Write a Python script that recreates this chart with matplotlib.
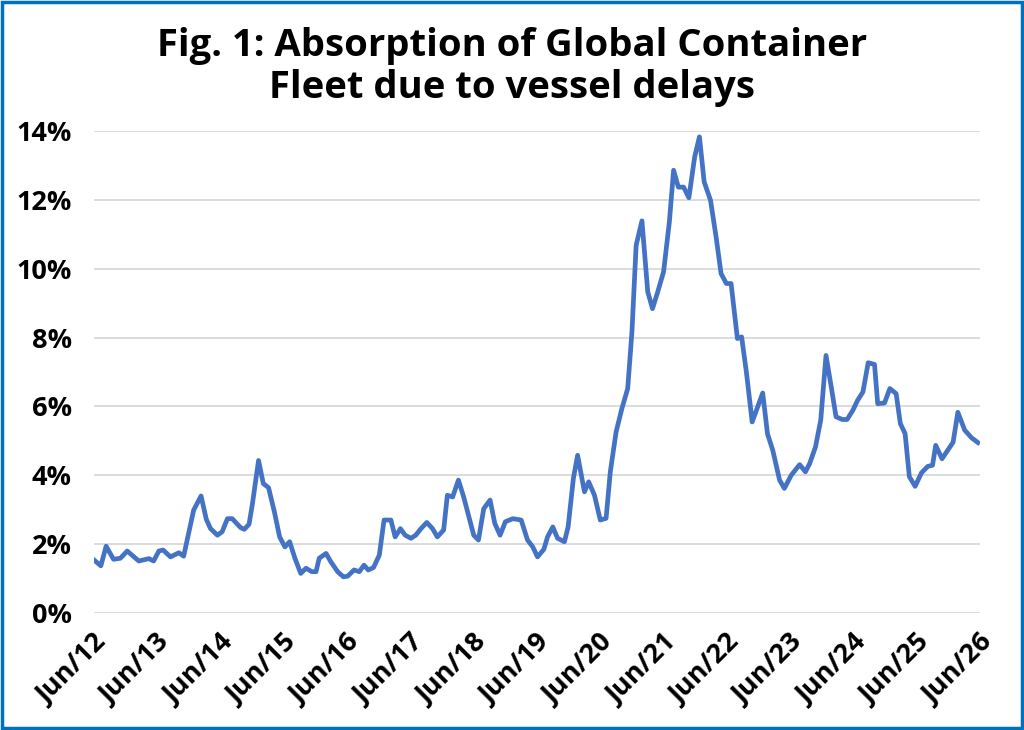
import matplotlib
matplotlib.use('Agg')
import matplotlib.pyplot as plt
from matplotlib.patches import Rectangle

plt.rcParams['font.family'] = ['Open Sans', 'DejaVu Sans']

# months since Jun 2012
months = [0, 1.3, 2.3, 3.7, 5.0, 6.3, 8.5, 10.4, 11.3, 12.3, 13.1, 14.5, 16.1, 17.0,
          18.9, 20.3, 21.3, 22.1, 23.4, 24.3, 25.3, 26.2, 27.8, 28.5, 29.4, 30.0,
          31.2, 32.1, 33.1, 34.2, 35.2, 36.2, 37.1, 38.1, 39.2, 40.2, 41.3, 42.1,
          42.7, 44.0, 44.9, 46.2, 47.3, 48.1, 49.3, 50.3, 51.2, 52.0, 53.0, 54.1,
          55.0, 56.3, 57.1, 58.1, 59.0, 60.1, 61.0, 62.0, 63.1, 64.2, 65.1, 66.3,
          67.0, 68.0, 69.1, 70.1, 71.0, 72.0, 72.9, 73.9, 75.1, 76.0, 77.0, 78.0,
          79.4, 81.0, 82.2, 83.2, 84.1, 85.3, 86.0, 87.0, 87.9, 89.2, 89.9, 90.9,
          91.7, 93.0, 93.8, 94.9, 96.0, 97.1, 97.9, 99.0, 100.1, 101.2, 102.0,
          102.8, 103.9, 105.0, 105.9, 106.9, 108.0, 109.1, 109.9, 110.8, 111.8,
          112.8, 113.9, 114.8, 115.7, 116.9, 118.0, 118.9, 119.9, 120.8, 122.0,
          122.8, 123.7, 124.8, 126.8, 127.7, 128.7, 130.0, 130.9, 132.2, 133.8,
          134.9, 135.7, 136.8, 137.8, 138.8, 139.8, 140.7, 141.9, 142.8, 143.9,
          144.8, 145.8, 146.8, 148.0, 148.6, 149.9, 150.9, 152.1, 152.9, 153.8,
          154.6, 155.7, 156.9, 158.1, 159.0, 159.6, 160.8, 162.9, 163.8, 165.1,
          166.4, 167.6]

absorption = [1.54, 1.37, 1.94, 1.56, 1.59, 1.80, 1.51, 1.58, 1.51, 1.80, 1.83, 1.63,
              1.75, 1.65, 2.99, 3.40, 2.72, 2.45, 2.26, 2.36, 2.74, 2.74, 2.48, 2.43,
              2.58, 3.13, 4.43, 3.76, 3.64, 2.94, 2.21, 1.92, 2.07, 1.59, 1.15, 1.30,
              1.20, 1.20, 1.59, 1.73, 1.49, 1.20, 1.05, 1.07, 1.25, 1.20, 1.39, 1.25,
              1.32, 1.68, 2.70, 2.70, 2.21, 2.45, 2.26, 2.17, 2.26, 2.45, 2.63, 2.45,
              2.21, 2.41, 3.42, 3.37, 3.86, 3.37, 2.84, 2.26, 2.12, 3.03, 3.28, 2.60,
              2.26, 2.65, 2.74, 2.70, 2.12, 1.92, 1.63, 1.85, 2.21, 2.50, 2.17, 2.07,
              2.50, 3.91, 4.58, 3.52, 3.81, 3.42, 2.70, 2.75, 4.10, 5.26, 5.94, 6.52,
              8.16, 10.68, 11.39, 9.33, 8.84, 9.33, 9.91, 11.36, 12.86, 12.37, 12.37,
              12.06, 13.25, 13.83, 12.52, 11.99, 10.88, 9.86, 9.57, 9.57, 7.97, 8.02,
              7.00, 5.55, 6.39, 5.21, 4.73, 3.86, 3.62, 4.00, 4.31, 4.10, 4.34, 4.82,
              5.60, 7.48, 6.56, 5.70, 5.62, 5.62, 5.89, 6.18, 6.42, 7.27, 7.22, 6.08,
              6.10, 6.52, 6.37, 5.50, 5.21, 3.96, 3.68, 4.07, 4.26, 4.29, 4.87, 4.48,
              4.96, 5.83, 5.31, 5.09, 4.95]

tick_months = list(range(0, 169, 12))
tick_labels = ['Jun/%02d' % (12 + i) for i in range(len(tick_months))]
y_ticks = list(range(0, 15, 2))

fig = plt.figure(figsize=(10.24, 7.3), dpi=100)
ax = fig.add_axes([94 / 1024, 117 / 730, 886 / 1024, 482 / 730])

ax.plot(months, absorption, color='#4472C4', linewidth=3.4, solid_joinstyle='round')

ax.set_xlim(0, 168)
ax.set_ylim(0, 14)
ax.set_yticks(y_ticks)
ax.set_yticklabels(['%d%%' % v for v in y_ticks])
ax.set_xticks(tick_months)
ax.set_xticklabels(tick_labels, rotation=45, ha='right', va='top', rotation_mode='anchor')

ax.grid(axis='y', color='#D9D9D9', linewidth=1.3)
ax.set_axisbelow(True)
for s in ax.spines.values():
    s.set_visible(False)
ax.tick_params(axis='both', length=0, labelsize=19.5)
ax.tick_params(axis='x', pad=12)
ax.tick_params(axis='y', pad=16)
for lab in ax.get_xticklabels() + ax.get_yticklabels():
    lab.set_fontweight('bold')

fig.text(0.5, 0.908, 'Fig. 1: Absorption of Global Container\nFleet due to vessel delays',
         ha='center', va='center', fontsize=27.5, fontweight='bold', linespacing=1.12)

# blue frame around the chart
fig.patches.append(Rectangle((0.002, 0.003), 0.996, 0.994, transform=fig.transFigure,
                             fill=False, edgecolor='#0070C0', linewidth=2.5))

fig.savefig('out.png', dpi=100)
